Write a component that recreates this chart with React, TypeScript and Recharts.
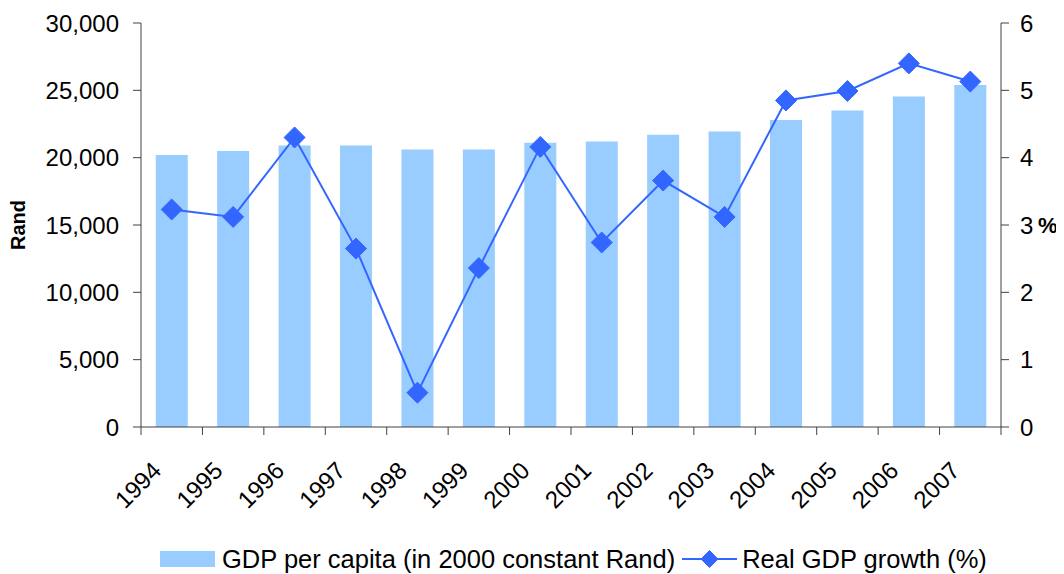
import { ComposedChart, Bar, Line, XAxis, YAxis, Legend } from "recharts";

const years = ["1994", "1995", "1996", "1997", "1998", "1999", "2000", "2001", "2002", "2003", "2004", "2005", "2006", "2007"];
const gdpPerCapita = [20200, 20500, 20900, 20900, 20600, 20600, 21100, 21200, 21700, 21950, 22800, 23500, 24550, 25400];
const gdpGrowth = [3.23, 3.12, 4.3, 2.65, 0.51, 2.36, 4.16, 2.74, 3.66, 3.12, 4.85, 4.99, 5.4, 5.13];
const randTicks = [0, 5000, 10000, 15000, 20000, 25000, 30000];
const pctTicks = [0, 1, 2, 3, 4, 5, 6];

const data = years.map((year, i) => ({ year, gdp: gdpPerCapita[i], growth: gdpGrowth[i] }));

const FONT = "'Liberation Sans', Arial, sans-serif";
const BAR_COLOR = "#99ccff";
const LINE_COLOR = "#3366ff";
const AXIS_COLOR = "#404040";
const PLOT_WIDTH = 860;
const BAND = PLOT_WIDTH / years.length;

// marker; `size` is used instead of `r` because Line passes its own r to dots
function Diamond({ cx, cy, size = 10.5 }: { cx?: number; cy?: number; size?: number }) {
  if (cx == null || cy == null) return null;
  return (
    <polygon
      points={`${cx},${cy - size} ${cx + size},${cy} ${cx},${cy + size} ${cx - size},${cy}`}
      fill={LINE_COLOR}
      stroke={LINE_COLOR}
    />
  );
}

function YearTick(props: any) {
  const { x, y, payload, index } = props;
  const left = x - BAND / 2;
  const tx = x - 9;
  const ty = y + 45;
  return (
    <g>
      <line x1={left} y1={y} x2={left} y2={y + 8} stroke={AXIS_COLOR} />
      {index === years.length - 1 && (
        <line x1={x + BAND / 2} y1={y} x2={x + BAND / 2} y2={y + 8} stroke={AXIS_COLOR} />
      )}
      <text
        x={tx}
        y={ty}
        textAnchor="end"
        fontSize={24}
        fontFamily={FONT}
        fill="#000"
        transform={`rotate(-45, ${tx}, ${ty})`}
      >
        {payload.value}
      </text>
    </g>
  );
}

function ChartLegend() {
  return (
    <div
      style={{
        display: "flex",
        alignItems: "center",
        height: 30,
        paddingLeft: 152,
        fontFamily: FONT,
        fontSize: 25.5,
        color: "#000",
        whiteSpace: "nowrap",
      }}
    >
      <span style={{ display: "inline-block", width: 55, height: 16, background: BAR_COLOR, marginRight: 7 }} />
      <span>GDP per capita (in 2000 constant Rand)</span>
      <svg width={55} height={20} style={{ margin: "0 5px 0 7px" }}>
        <line x1={0} y1={10} x2={55} y2={10} stroke={LINE_COLOR} strokeWidth={2} />
        <Diamond cx={27.5} cy={10} size={8.5} />
      </svg>
      <span>Real GDP growth (%)</span>
    </div>
  );
}

export default function App() {
  return (
    <ComposedChart
      width={1056}
      height={566}
      data={data}
      margin={{ top: 15, right: 0, bottom: 0, left: 0 }}
      barCategoryGap="24%"
      style={{ fontFamily: FONT }}
    >
      <XAxis
        dataKey="year"
        height={117}
        interval={0}
        tickLine={false}
        tickSize={0}
        tickMargin={0}
        axisLine={{ stroke: AXIS_COLOR }}
        tick={<YearTick />}
      />
      <YAxis
        yAxisId="left"
        width={133}
        domain={[0, 30000]}
        ticks={randTicks}
        tickFormatter={(v: number) => v.toLocaleString("en-US")}
        tick={{ fontSize: 24, fill: "#000", fontFamily: FONT }}
        tickSize={8}
        tickMargin={14}
        tickLine={{ stroke: AXIS_COLOR }}
        axisLine={{ stroke: AXIS_COLOR }}
        label={({ viewBox }: any) => (
          <text
            x={viewBox.x + 12}
            y={viewBox.y + viewBox.height / 2}
            transform={`rotate(-90, ${viewBox.x + 12}, ${viewBox.y + viewBox.height / 2})`}
            textAnchor="middle"
            dominantBaseline="middle"
            fontSize={20}
            fontWeight="bold"
            fontFamily={FONT}
            fill="#000"
          >
            Rand
          </text>
        )}
      />
      <YAxis
        yAxisId="right"
        orientation="right"
        width={63}
        domain={[0, 6]}
        ticks={pctTicks}
        tick={{ fontSize: 24, fill: "#000", fontFamily: FONT, textAnchor: "start" }}
        tickSize={8}
        tickMargin={11}
        tickLine={{ stroke: AXIS_COLOR }}
        axisLine={{ stroke: AXIS_COLOR }}
        label={({ viewBox }: any) => (
          <text
            x={viewBox.x + 37}
            y={viewBox.y + viewBox.height / 2 + 8}
            fontSize={22}
            fontWeight="bold"
            fontFamily={FONT}
            fill="#000"
          >
            %
          </text>
        )}
      />
      <Legend verticalAlign="bottom" content={<ChartLegend />} />
      <Bar yAxisId="left" dataKey="gdp" fill={BAR_COLOR} isAnimationActive={false} />
      <Line
        yAxisId="right"
        dataKey="growth"
        stroke={LINE_COLOR}
        strokeWidth={2}
        dot={<Diamond />}
        activeDot={false}
        isAnimationActive={false}
      />
    </ComposedChart>
  );
}
